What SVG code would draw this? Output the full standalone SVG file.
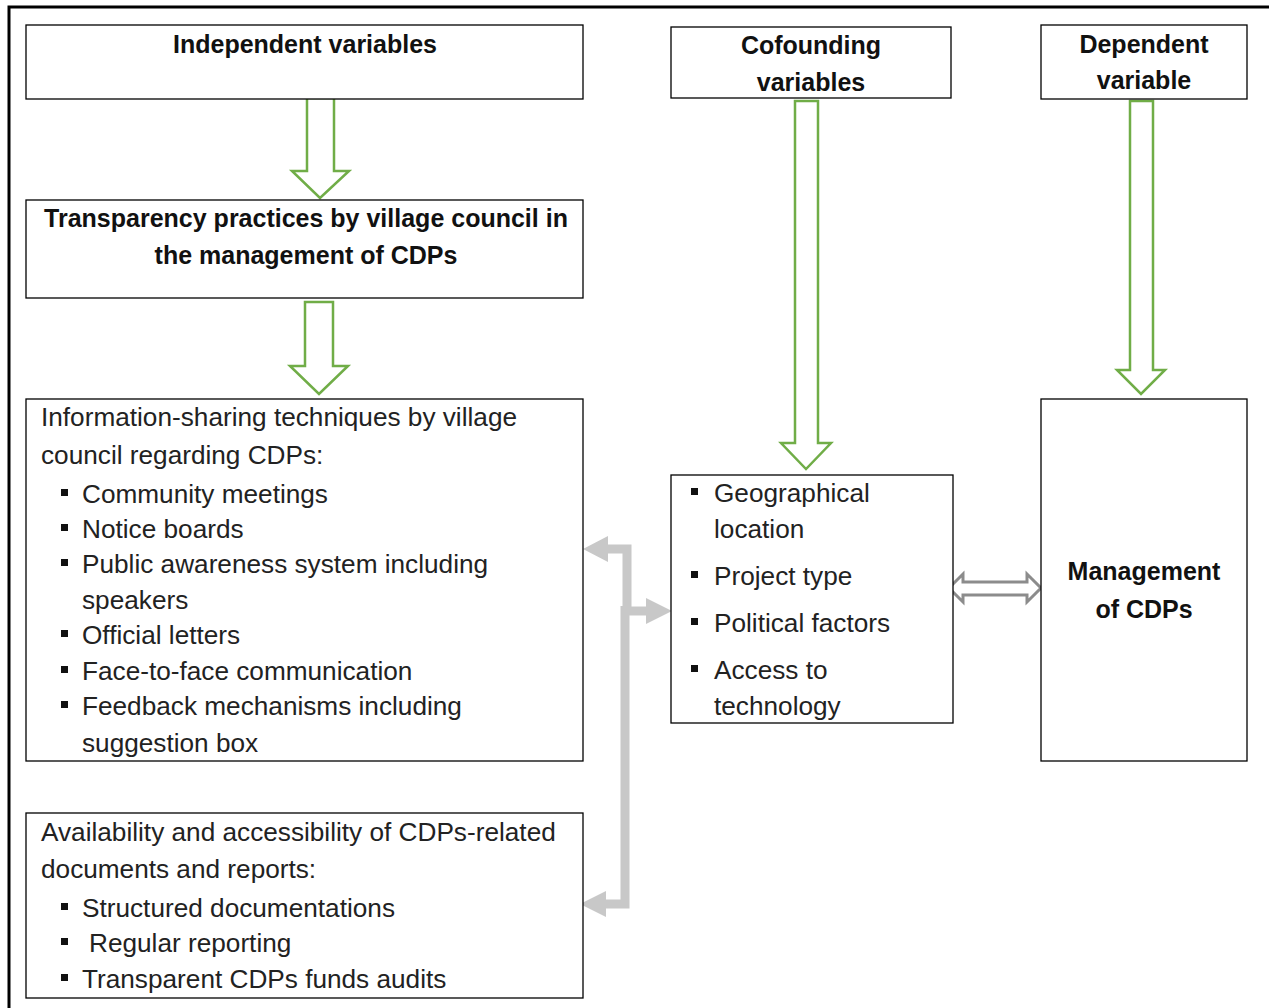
<svg xmlns="http://www.w3.org/2000/svg" width="1269" height="1008" viewBox="0 0 1269 1008">
<style>
.box{fill:#fff;stroke:#000;stroke-width:1.3}
.t{font-family:"Liberation Sans",Arial,sans-serif;font-size:26.2px;fill:#222}
.b{font-family:"Liberation Sans",Arial,sans-serif;font-size:25px;font-weight:bold;fill:#111;text-anchor:middle}
.garrow{fill:#fff;stroke:#70ad47;stroke-width:2.5}
.gray{fill:none;stroke:#c8c8c8;stroke-width:9}
.grayhead{fill:#c8c8c8}
.dbl{fill:#fff;stroke:#8c8c8c;stroke-width:3}
.sq{fill:#111}
</style>
<defs>
<rect id="bl" class="sq" width="7" height="7"/>
</defs>
<rect x="9" y="7" width="1300" height="1100" fill="none" stroke="#000" stroke-width="3"/>

<g id="connectors">
<polygon class="garrow" points="307,98 334,98 334,171 349,171 320,198 292,171 307,171"/>
<polygon class="garrow" points="305,302 333,302 333,366 348,366 319,394 290,366 305,366"/>
<polygon class="garrow" points="795,101 818,101 818,443 831,443 806,469 781,443 795,443"/>
<polygon class="garrow" points="1130,101 1153,101 1153,370 1165,370 1141,394 1117,370 1130,370"/>
<path class="gray" d="M627,610 V549 H606"/>
<polygon class="grayhead" points="583,549 608,536 608,562"/>
<path class="gray" d="M625,606 V904 H604"/>
<polygon class="grayhead" points="580,904 606,891 606,917"/>
<path class="gray" d="M621,611 H648"/>
<polygon class="grayhead" points="672,611 646,598 646,624"/>
<polygon class="dbl" points="949,588 963,574 963,582 1027,582 1027,574 1041,588 1027,602 1027,595 963,595 963,602"/>
</g>

<g id="independent">
<rect class="box" x="26" y="25" width="557" height="74"/>
<text class="b" x="305" y="53">Independent variables</text>
</g>

<g id="transparency">
<rect class="box" x="26" y="200" width="557" height="98"/>
<text class="b" x="306" y="227">Transparency practices by village council in</text>
<text class="b" x="306" y="264">the management of CDPs</text>
</g>

<g id="information">
<rect class="box" x="26" y="399" width="557" height="362"/>
<text class="t" x="41" y="426">Information-sharing techniques by village</text>
<text class="t" x="41" y="464">council regarding CDPs:</text>
<use href="#bl" x="61" y="489"/><text class="t" x="82" y="503">Community meetings</text>
<use href="#bl" x="61" y="524"/><text class="t" x="82" y="538">Notice boards</text>
<use href="#bl" x="61" y="559"/><text class="t" x="82" y="573">Public awareness system including</text>
<text class="t" x="82" y="609">speakers</text>
<use href="#bl" x="61" y="630"/><text class="t" x="82" y="644">Official letters</text>
<use href="#bl" x="61" y="666"/><text class="t" x="82" y="680">Face-to-face communication</text>
<use href="#bl" x="61" y="701"/><text class="t" x="82" y="715">Feedback mechanisms including</text>
<text class="t" x="82" y="752">suggestion box</text>
</g>

<g id="availability">
<rect class="box" x="26" y="813" width="557" height="185"/>
<text class="t" x="41" y="841">Availability and accessibility of CDPs-related</text>
<text class="t" x="41" y="878">documents and reports:</text>
<use href="#bl" x="61" y="903"/><text class="t" x="82" y="917">Structured documentations</text>
<use href="#bl" x="61" y="938"/><text class="t" x="89" y="952">Regular reporting</text>
<use href="#bl" x="61" y="974"/><text class="t" x="82" y="988">Transparent CDPs funds audits</text>
</g>

<g id="cofounding">
<rect class="box" x="671" y="27" width="280" height="71"/>
<text class="b" x="811" y="54">Cofounding</text>
<text class="b" x="811" y="91">variables</text>
</g>

<g id="dependent">
<rect class="box" x="1041" y="25" width="206" height="74"/>
<text class="b" x="1144" y="53">Dependent</text>
<text class="b" x="1144" y="89">variable</text>
</g>

<g id="confounders">
<rect class="box" x="671" y="475" width="282" height="248"/>
<use href="#bl" x="691" y="488"/><text class="t" x="714" y="502">Geographical</text>
<text class="t" x="714" y="538">location</text>
<use href="#bl" x="691" y="571"/><text class="t" x="714" y="585">Project type</text>
<use href="#bl" x="691" y="618"/><text class="t" x="714" y="632">Political factors</text>
<use href="#bl" x="691" y="665"/><text class="t" x="714" y="679">Access to</text>
<text class="t" x="714" y="715">technology</text>
</g>

<g id="management">
<rect class="box" x="1041" y="399" width="206" height="362"/>
<text class="b" x="1144" y="580">Management</text>
<text class="b" x="1144" y="618">of CDPs</text>
</g>
</svg>
